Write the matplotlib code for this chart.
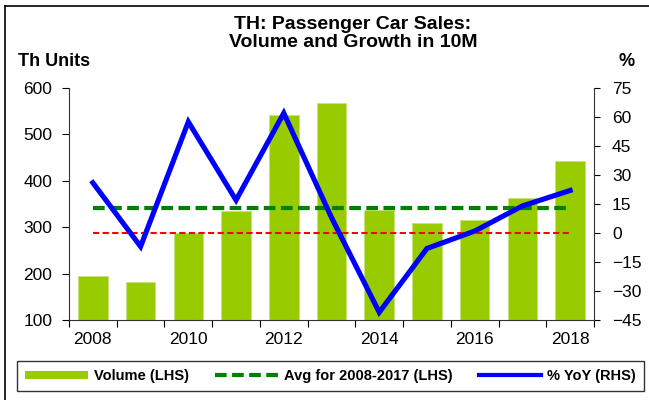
import matplotlib.pyplot as plt
from matplotlib.lines import Line2D
from matplotlib.patches import Patch

plt.rcParams['font.family'] = ['Liberation Sans', 'DejaVu Sans']

years = [2008, 2009, 2010, 2011, 2012, 2013, 2014, 2015, 2016, 2017, 2018]
volume = [195, 182, 287, 334, 542, 568, 336, 308, 316, 362, 442]
yoy = [26, -7, 57.5, 17, 62, 8, -41, -8, 1, 14, 22]
avg_0817 = 342
zero_line = 0

x = list(range(len(years)))

fig = plt.figure(figsize=(6.49, 4.0), dpi=100)
ax = fig.add_axes([0.1063, 0.2, 0.809, 0.58])
ax2 = ax.twinx()

ax.bar(x, volume, width=0.62, color='#99cc00', edgecolor='#c8e27a', linewidth=0.6, zorder=1)
ax.plot([x[0], x[-1]], [avg_0817, avg_0817], color='#008000', lw=3.0, dashes=(2.8, 1.3), zorder=3)
ax2.plot([x[0], x[-1]], [zero_line, zero_line], color='#ff0000', lw=1.5, dashes=(3, 1.6), zorder=2)
ax2.plot(x, yoy, color='#0000ff', lw=3.7, solid_joinstyle='miter', zorder=4)

ax.set_xlim(-0.5, len(years) - 0.5)
ax.set_ylim(100, 600)
ax.set_yticks(range(100, 601, 100))
ax2.set_ylim(-45, 75)
ax2.set_yticks(range(-45, 76, 15))

ax.set_xticks([i - 0.5 for i in range(len(years) + 1)])
ax.set_xticklabels([])
ax.set_xticks(x[::2], minor=True)
ax.set_xticklabels([str(y) for y in years[::2]], minor=True)
ax.tick_params(axis='x', which='minor', length=0, pad=9, labelsize=12.5)
ax.tick_params(axis='x', which='major', length=5, direction='out')
ax.tick_params(axis='y', labelsize=12.5, length=5, pad=7, direction='out')
ax2.tick_params(axis='y', labelsize=12.5, length=4, pad=9, direction='out')

for a in (ax, ax2):
    a.spines['top'].set_visible(False)
ax.spines['right'].set_visible(False)
ax2.spines['left'].set_visible(False)
ax2.spines['bottom'].set_visible(False)
for s in ('left', 'bottom'):
    ax.spines[s].set_color('#333333')
ax2.spines['right'].set_color('#333333')

fig.text(0.544, 0.9275, 'TH: Passenger Car Sales:', ha='center', va='baseline', fontsize=14, fontweight='bold')
fig.text(0.544, 0.883, 'Volume and Growth in 10M', ha='center', va='baseline', fontsize=14, fontweight='bold')
fig.text(0.028, 0.836, 'Th Units', ha='left', va='baseline', fontsize=13, fontweight='bold')
fig.text(0.965, 0.836, '%', ha='center', va='baseline', fontsize=13, fontweight='bold')

handles = [Patch(facecolor='#99cc00', edgecolor='none'),
           Line2D([], [], color='#008000', lw=3.0, dashes=(2.8, 1.3)),
           Line2D([], [], color='#0000ff', lw=3.0)]
labels = ['Volume (LHS)', 'Avg for 2008-2017 (LHS)', '% YoY (RHS)']
leg = fig.legend(handles, labels, loc='lower left', bbox_to_anchor=(0.0267, 0.0225, 0.9655, 0.08),
                 mode='expand', ncol=3, frameon=True, fancybox=False, edgecolor='black',
                 handlelength=4.3, handleheight=0.45, handletextpad=0.4, borderpad=0.55,
                 borderaxespad=0, prop={'weight': 'bold', 'size': 10.5})
leg.get_frame().set_linewidth(1.0)

# outer frame (left and top edges visible)
fig.add_artist(Line2D([0.008, 0.008], [0, 0.985], color='black', lw=1.2, transform=fig.transFigure))
fig.add_artist(Line2D([0.008, 1], [0.985, 0.985], color='black', lw=1.2, transform=fig.transFigure))

plt.savefig('out.png', dpi=100)
